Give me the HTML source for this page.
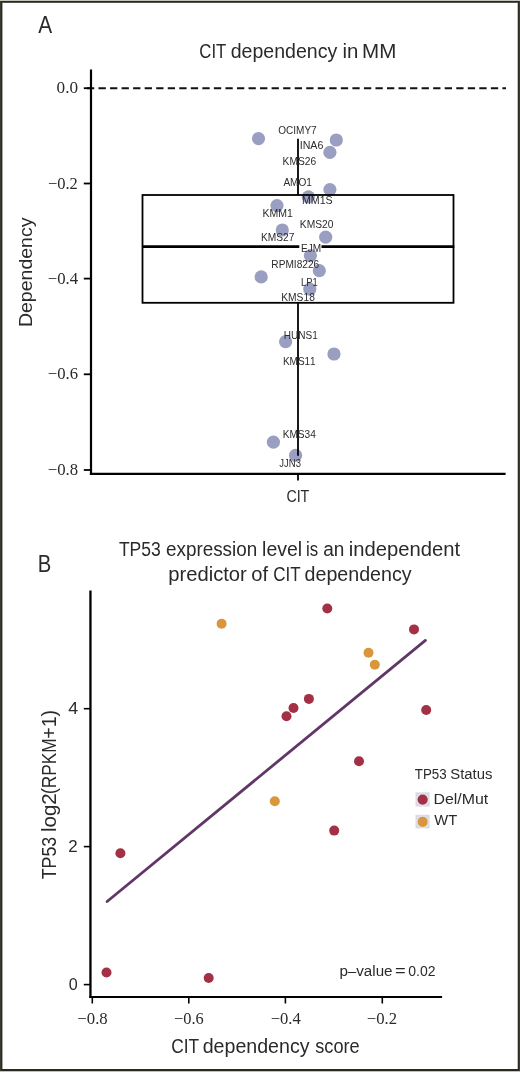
<!DOCTYPE html>
<html><head><meta charset="utf-8"><title>CIT dependency</title>
<style>
html,body{margin:0;padding:0;background:#fff;}
svg{display:block;will-change:transform;}
text{font-family:"Liberation Sans",sans-serif;fill:#2a2a2a;font-kerning:none;}
text.serif{font-family:"Liberation Serif",serif;}
text.lbl{fill:#2c2c2c;}
</style></head>
<body>
<svg width="520" height="1072" viewBox="0 0 520 1072">
<rect x="0" y="0" width="520" height="1072" fill="#ffffff"/>
<rect x="0" y="0" width="520" height="1" fill="#c6c6be"/>
<rect x="0" y="1071" width="520" height="1" fill="#c2c2ba"/>
<rect x="0" y="1" width="520" height="1" fill="#26261f"/>
<rect x="0" y="2" width="520" height="1" fill="#55554e"/>
<rect x="0" y="1069" width="520" height="2" fill="#2a2a23"/>
<rect x="0" y="1" width="1" height="1070" fill="#3a3a33"/>
<rect x="1" y="1" width="1" height="1070" fill="#2b2b24"/>
<rect x="2" y="3" width="1" height="1066" fill="#a8a8a3"/>
<rect x="517" y="3" width="1" height="1066" fill="#c4c4bf"/>
<rect x="518" y="1" width="1" height="1070" fill="#2b2b23"/>
<rect x="519" y="1" width="1" height="1070" fill="#3b3b33"/>

<text x="38.36" y="32.50" font-size="23.30" textLength="13.88" lengthAdjust="spacingAndGlyphs">A</text>
<text x="199.35" y="57.60" font-size="19.30" textLength="26.93" lengthAdjust="spacingAndGlyphs">CIT</text>
<text x="230.68" y="57.60" font-size="19.30" textLength="106.66" lengthAdjust="spacingAndGlyphs">dependency</text>
<text x="342.43" y="57.60" font-size="19.30" textLength="15.89" lengthAdjust="spacingAndGlyphs">in</text>
<text x="362.07" y="57.60" font-size="19.30" textLength="34.22" lengthAdjust="spacingAndGlyphs">MM</text>
<line x1="86.96" y1="88.3" x2="506" y2="88.3" stroke="#111" stroke-width="2" stroke-dasharray="7.3 4.24"/>
<g fill="#9a9ec0">
<circle cx="258.5" cy="138.6" r="6.6"/>
<circle cx="336.3" cy="140.0" r="6.6"/>
<circle cx="329.9" cy="152.4" r="6.6"/>
<circle cx="329.9" cy="189.6" r="6.6"/>
<circle cx="308.4" cy="196.8" r="6.6"/>
<circle cx="277.0" cy="205.6" r="6.6"/>
<circle cx="282.3" cy="230.0" r="6.6"/>
<circle cx="325.7" cy="237.2" r="6.6"/>
<circle cx="310.4" cy="255.6" r="6.6"/>
<circle cx="319.3" cy="270.7" r="6.6"/>
<circle cx="261.2" cy="276.9" r="6.6"/>
<circle cx="309.8" cy="289.1" r="6.6"/>
<circle cx="285.6" cy="341.7" r="6.6"/>
<circle cx="334.0" cy="354.0" r="6.6"/>
<circle cx="273.4" cy="442.2" r="6.6"/>
<circle cx="295.6" cy="455.3" r="6.6"/>
</g>
<g stroke="#000" fill="none">
<rect x="142.5" y="195" width="311" height="107.8" stroke-width="1.8"/>
<line x1="142.2" y1="246.6" x2="299.3" y2="246.6" stroke-width="2.6"/>
<line x1="321.5" y1="246.6" x2="454.3" y2="246.6" stroke-width="2.6"/>
<line x1="298" y1="138.7" x2="298" y2="195" stroke-width="1.8"/>
<line x1="298" y1="302.8" x2="298" y2="455.7" stroke-width="1.8"/>
</g>
<text x="278.22" y="133.60" font-size="10.50" textLength="38.48" lengthAdjust="spacingAndGlyphs" class="lbl">OCIMY7</text>
<text x="299.72" y="148.80" font-size="10.50" textLength="23.65" lengthAdjust="spacingAndGlyphs" class="lbl">INA6</text>
<text x="282.56" y="165.10" font-size="10.50" textLength="33.59" lengthAdjust="spacingAndGlyphs" class="lbl">KMS26</text>
<text x="283.38" y="185.50" font-size="10.50" textLength="28.61" lengthAdjust="spacingAndGlyphs" class="lbl">AMO1</text>
<text x="301.93" y="204.10" font-size="10.50" textLength="30.76" lengthAdjust="spacingAndGlyphs" class="lbl">MM1S</text>
<text x="262.44" y="216.80" font-size="10.50" textLength="30.38" lengthAdjust="spacingAndGlyphs" class="lbl">KMM1</text>
<text x="299.86" y="227.60" font-size="10.50" textLength="33.64" lengthAdjust="spacingAndGlyphs" class="lbl">KMS20</text>
<text x="260.96" y="241.30" font-size="10.50" textLength="33.45" lengthAdjust="spacingAndGlyphs" class="lbl">KMS27</text>
<text x="301.07" y="251.90" font-size="10.50" textLength="20.15" lengthAdjust="spacingAndGlyphs" class="lbl">EJM</text>
<text x="271.37" y="267.60" font-size="10.50" textLength="47.77" lengthAdjust="spacingAndGlyphs" class="lbl">RPMI8226</text>
<text x="301.03" y="286.40" font-size="10.50" textLength="16.62" lengthAdjust="spacingAndGlyphs" class="lbl">LP1</text>
<text x="281.26" y="300.90" font-size="10.50" textLength="33.59" lengthAdjust="spacingAndGlyphs" class="lbl">KMS18</text>
<text x="283.78" y="338.80" font-size="10.50" textLength="34.01" lengthAdjust="spacingAndGlyphs" class="lbl">HUNS1</text>
<text x="282.88" y="364.60" font-size="10.50" textLength="32.81" lengthAdjust="spacingAndGlyphs" class="lbl">KMS11</text>
<text x="282.67" y="438.20" font-size="10.50" textLength="33.23" lengthAdjust="spacingAndGlyphs" class="lbl">KMS34</text>
<text x="279.35" y="466.80" font-size="10.50" textLength="21.56" lengthAdjust="spacingAndGlyphs" class="lbl">JJN3</text>
<g stroke="#000" fill="none">
<line x1="91" y1="69.5" x2="91" y2="475" stroke-width="2.2"/>
<line x1="89.9" y1="473.9" x2="505.6" y2="473.9" stroke-width="2.2"/>
<g stroke-width="1.8">
<line x1="83.8" y1="88.2" x2="91" y2="88.2"/>
<line x1="83.8" y1="183.5" x2="91" y2="183.5"/>
<line x1="83.8" y1="278.6" x2="91" y2="278.6"/>
<line x1="83.8" y1="374.3" x2="91" y2="374.3"/>
<line x1="83.8" y1="470" x2="91" y2="470"/>
<line x1="298" y1="473.9" x2="298" y2="480.6"/>
</g>
</g>
<text x="56.54" y="93.10" font-size="16.80" textLength="21.51" lengthAdjust="spacingAndGlyphs" class="serif">0.0</text>
<text x="47.88" y="188.70" font-size="16.80" textLength="29.93" lengthAdjust="spacingAndGlyphs" class="serif">−0.2</text>
<text x="47.77" y="283.80" font-size="16.80" textLength="30.29" lengthAdjust="spacingAndGlyphs" class="serif">−0.4</text>
<text x="47.77" y="378.60" font-size="16.80" textLength="30.23" lengthAdjust="spacingAndGlyphs" class="serif">−0.6</text>
<text x="47.77" y="474.60" font-size="16.80" textLength="30.37" lengthAdjust="spacingAndGlyphs" class="serif">−0.8</text>
<text x="286.38" y="501.70" font-size="16.60" textLength="22.95" lengthAdjust="spacingAndGlyphs">CIT</text>
<text transform="translate(32.00,0) rotate(-90)" x="-327.10" y="0" font-size="19.00" textLength="109.54" lengthAdjust="spacingAndGlyphs">Dependency</text>
<text x="37.84" y="571.50" font-size="23.00" textLength="13.53" lengthAdjust="spacingAndGlyphs">B</text>
<text x="118.91" y="555.80" font-size="19.70" textLength="41.86" lengthAdjust="spacingAndGlyphs">TP53</text>
<text x="166.00" y="555.80" font-size="19.70" textLength="91.23" lengthAdjust="spacingAndGlyphs">expression</text>
<text x="262.09" y="555.80" font-size="19.70" textLength="40.01" lengthAdjust="spacingAndGlyphs">level</text>
<text x="305.98" y="555.80" font-size="19.70" textLength="12.13" lengthAdjust="spacingAndGlyphs">is</text>
<text x="323.19" y="555.80" font-size="19.70" textLength="21.14" lengthAdjust="spacingAndGlyphs">an</text>
<text x="348.85" y="555.80" font-size="19.70" textLength="111.30" lengthAdjust="spacingAndGlyphs">independent</text>
<text x="168.20" y="580.50" font-size="19.70" textLength="78.64" lengthAdjust="spacingAndGlyphs">predictor</text>
<text x="251.25" y="580.50" font-size="19.70" textLength="16.82" lengthAdjust="spacingAndGlyphs">of</text>
<text x="273.24" y="580.50" font-size="19.70" textLength="27.35" lengthAdjust="spacingAndGlyphs">CIT</text>
<text x="304.58" y="580.50" font-size="19.70" textLength="106.96" lengthAdjust="spacingAndGlyphs">dependency</text>
<line x1="107.1" y1="901.5" x2="425.4" y2="640.4" stroke="#613768" stroke-width="2.8" stroke-linecap="round"/>
<g fill="#a33044">
<circle cx="327.3" cy="608.5" r="5"/>
<circle cx="414.0" cy="629.4" r="5"/>
<circle cx="426.2" cy="710.0" r="5"/>
<circle cx="308.9" cy="698.9" r="5"/>
<circle cx="293.5" cy="708.0" r="5"/>
<circle cx="286.5" cy="716.2" r="5"/>
<circle cx="359.0" cy="761.3" r="5"/>
<circle cx="334.2" cy="830.6" r="5"/>
<circle cx="120.4" cy="853.2" r="5"/>
<circle cx="106.5" cy="972.5" r="5"/>
<circle cx="208.7" cy="978.0" r="5"/>
</g><g fill="#d9963a">
<circle cx="221.6" cy="623.8" r="5"/>
<circle cx="368.5" cy="652.7" r="5"/>
<circle cx="374.8" cy="664.8" r="5"/>
<circle cx="274.8" cy="801.2" r="5"/>
</g>
<g stroke="#000" fill="none">
<line x1="90.45" y1="590.5" x2="90.45" y2="998" stroke-width="2.3"/>
<line x1="89.3" y1="997" x2="442.1" y2="997" stroke-width="2.1"/>
<g stroke-width="1.6">
<line x1="83.8" y1="708.7" x2="90.45" y2="708.7"/>
<line x1="83.8" y1="846.6" x2="90.45" y2="846.6"/>
<line x1="83.8" y1="984.6" x2="90.45" y2="984.6"/>
<line x1="92.3" y1="997" x2="92.3" y2="1003.5"/>
<line x1="188.8" y1="997" x2="188.8" y2="1003.5"/>
<line x1="285.4" y1="997" x2="285.4" y2="1003.5"/>
<line x1="382.3" y1="997" x2="382.3" y2="1003.5"/>
</g>
</g>
<text x="68.39" y="713.80" font-size="16.00" textLength="9.93" lengthAdjust="spacingAndGlyphs">4</text>
<text x="68.35" y="851.80" font-size="16.00" textLength="9.40" lengthAdjust="spacingAndGlyphs">2</text>
<text x="68.77" y="989.50" font-size="16.00" textLength="8.96" lengthAdjust="spacingAndGlyphs">0</text>
<text x="77.37" y="1024.30" font-size="16.50" textLength="30.37" lengthAdjust="spacingAndGlyphs" class="serif">−0.8</text>
<text x="173.98" y="1024.30" font-size="16.50" textLength="29.70" lengthAdjust="spacingAndGlyphs" class="serif">−0.6</text>
<text x="270.67" y="1024.30" font-size="16.50" textLength="30.09" lengthAdjust="spacingAndGlyphs" class="serif">−0.4</text>
<text x="366.87" y="1024.30" font-size="16.50" textLength="30.25" lengthAdjust="spacingAndGlyphs" class="serif">−0.2</text>
<text x="171.32" y="1052.80" font-size="20.00" textLength="27.88" lengthAdjust="spacingAndGlyphs">CIT</text>
<text x="202.68" y="1052.80" font-size="20.00" textLength="106.86" lengthAdjust="spacingAndGlyphs">dependency</text>
<text x="315.29" y="1052.80" font-size="20.00" textLength="44.41" lengthAdjust="spacingAndGlyphs">score</text>
<text transform="translate(55.90,0) rotate(-90)" x="-879.30" y="0" font-size="19.80" textLength="42.48" lengthAdjust="spacingAndGlyphs">TP53</text>
<text transform="translate(55.90,0) rotate(-90)" x="-832.08" y="0" font-size="19.80" textLength="38.82" lengthAdjust="spacingAndGlyphs">log2</text>
<text transform="translate(55.90,0) rotate(-90)" x="-793.97" y="0" font-size="19.80" textLength="55.58" lengthAdjust="spacingAndGlyphs">(RPKM</text>
<text transform="translate(55.90,0) rotate(-90)" x="-738.65" y="0" font-size="19.80" textLength="28.76" lengthAdjust="spacingAndGlyphs">+1)</text>
<text x="414.80" y="779.20" font-size="14.70" textLength="31.89" lengthAdjust="spacingAndGlyphs">TP53</text>
<text x="450.23" y="779.20" font-size="14.70" textLength="42.11" lengthAdjust="spacingAndGlyphs">Status</text>
<rect x="415.5" y="792.3" width="14.1" height="14.2" fill="#dadae6"/>
<circle cx="422.65" cy="799.6" r="6.2" fill="#e2e5f0"/>
<circle cx="422.65" cy="799.6" r="5.1" fill="#a33044"/>
<rect x="415.5" y="814.8" width="14.1" height="13.6" fill="#dadae6"/>
<circle cx="422.65" cy="821.8" r="6.2" fill="#e2e5f0"/>
<circle cx="422.65" cy="821.8" r="5.1" fill="#d9963a"/>
<text x="433.45" y="804.00" font-size="14.70" textLength="54.77" lengthAdjust="spacingAndGlyphs">Del/Mut</text>
<text x="434.34" y="825.40" font-size="14.70" textLength="22.90" lengthAdjust="spacingAndGlyphs">WT</text>
<text x="339.42" y="975.80" font-size="14.00" textLength="53.15" lengthAdjust="spacingAndGlyphs">p–value</text>
<text x="395.01" y="975.80" font-size="14.00" textLength="10.70" lengthAdjust="spacingAndGlyphs">=</text>
<text x="408.25" y="975.80" font-size="14.00" textLength="27.25" lengthAdjust="spacingAndGlyphs">0.02</text>
</svg>
</body></html>
